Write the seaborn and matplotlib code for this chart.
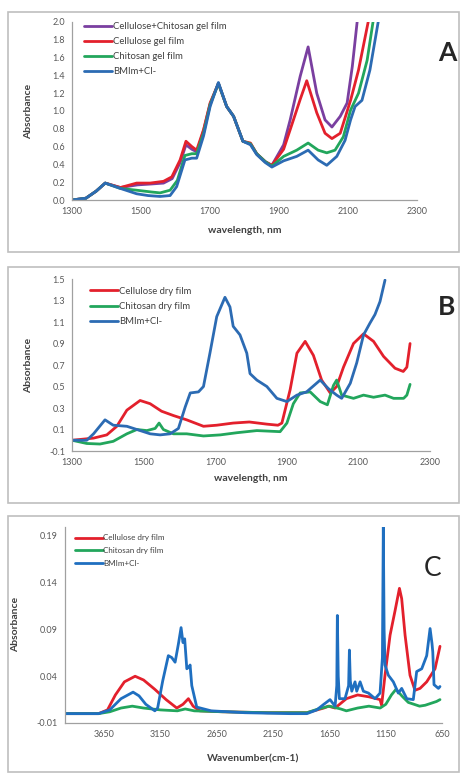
import matplotlib
matplotlib.use('Agg')
import matplotlib.pyplot as plt
import seaborn as sns
from matplotlib.patches import Rectangle

sns.set_style('white')
plt.rcParams['font.family'] = ['Lato', 'DejaVu Sans']

# ---- panel A (gel films) ----
wl_a_purple = [1300, 1340, 1370, 1396, 1440, 1490, 1530, 1565, 1590, 1613, 1630, 1647, 1662, 1681, 1700, 1724, 1748,
               1768, 1795, 1817, 1835, 1860, 1879, 1913, 1932, 1961, 1984, 2009, 2033, 2053, 2077, 2097, 2112, 2126]
abs_a_purple = [0.00, 0.02, 0.10, 0.19, 0.14, 0.17, 0.18, 0.19, 0.24, 0.42, 0.62, 0.57, 0.54, 0.78, 1.08, 1.31, 1.05,
                0.94, 0.66, 0.63, 0.52, 0.43, 0.39, 0.62, 0.90, 1.39, 1.72, 1.20, 0.90, 0.82, 0.94, 1.09, 1.50, 2.00]

wl_a_red = [1300, 1340, 1370, 1396, 1440, 1487, 1526, 1565, 1589, 1613, 1630, 1647, 1661, 1681, 1700, 1724, 1748,
            1768, 1795, 1817, 1835, 1860, 1879, 1913, 1932, 1961, 1980, 2009, 2033, 2053, 2077, 2107, 2130, 2158]
abs_a_red = [0.00, 0.02, 0.10, 0.19, 0.14, 0.19, 0.19, 0.21, 0.26, 0.45, 0.66, 0.60, 0.56, 0.79, 1.09, 1.31, 1.05,
             0.94, 0.66, 0.64, 0.52, 0.43, 0.39, 0.57, 0.79, 1.13, 1.34, 0.98, 0.75, 0.69, 0.75, 1.12, 1.46, 2.00]

wl_a_green = [1300, 1340, 1370, 1396, 1440, 1487, 1530, 1555, 1584, 1605, 1627, 1647, 1661, 1681, 1700, 1724, 1748,
              1768, 1795, 1817, 1835, 1860, 1879, 1913, 1951, 1984, 2013, 2038, 2062, 2086, 2107, 2130, 2155, 2172]
abs_a_green = [0.00, 0.02, 0.10, 0.19, 0.13, 0.11, 0.09, 0.08, 0.11, 0.22, 0.50, 0.52, 0.52, 0.75, 1.07, 1.31, 1.05,
               0.94, 0.66, 0.63, 0.52, 0.43, 0.38, 0.49, 0.56, 0.64, 0.56, 0.53, 0.56, 0.71, 1.01, 1.20, 1.57, 2.00]

wl_a_blue = [1300, 1340, 1370, 1396, 1440, 1487, 1520, 1555, 1584, 1603, 1627, 1647, 1661, 1681, 1700, 1724, 1748,
             1768, 1795, 1817, 1835, 1860, 1879, 1913, 1951, 1984, 2013, 2038, 2067, 2091, 2107, 2120, 2140, 2163, 2187]
abs_a_blue = [0.00, 0.02, 0.10, 0.19, 0.13, 0.07, 0.05, 0.04, 0.05, 0.15, 0.45, 0.47, 0.47, 0.72, 1.05, 1.32, 1.05,
              0.94, 0.66, 0.62, 0.51, 0.42, 0.37, 0.44, 0.49, 0.56, 0.45, 0.39, 0.49, 0.67, 0.90, 1.05, 1.12, 1.46, 2.00]

labels_a = ['Cellulose+Chitosan gel film', 'Cellulose gel film', 'Chitosan gel film', 'BMIm+Cl-']

# ---- panel B (dry films) ----
wl_b_red = [1300, 1360, 1397, 1425, 1453, 1490, 1518, 1550, 1583, 1620, 1667, 1704, 1750, 1795, 1844, 1875, 1886,
            1909, 1928, 1951, 1974, 1997, 2021, 2039, 2058, 2086, 2114, 2142, 2170, 2202, 2225, 2235, 2244]
abs_b_red = [0.00, 0.02, 0.05, 0.13, 0.28, 0.37, 0.34, 0.27, 0.23, 0.19, 0.13, 0.14, 0.16, 0.17, 0.15, 0.14, 0.16,
             0.47, 0.81, 0.92, 0.79, 0.56, 0.44, 0.50, 0.68, 0.90, 0.99, 0.92, 0.78, 0.67, 0.64, 0.68, 0.90]

wl_b_green = [1300, 1341, 1378, 1415, 1453, 1481, 1509, 1532, 1543, 1555, 1583, 1620, 1667, 1714, 1760, 1816, 1881,
              1900, 1918, 1937, 1965, 1993, 2013, 2030, 2039, 2053, 2086, 2114, 2142, 2174, 2198, 2226, 2235, 2244]
abs_b_green = [0.00, -0.03, -0.035, -0.01, 0.06, 0.10, 0.09, 0.11, 0.16, 0.10, 0.06, 0.06, 0.04, 0.05, 0.07, 0.09,
               0.08, 0.16, 0.34, 0.44, 0.45, 0.36, 0.33, 0.51, 0.56, 0.42, 0.39, 0.42, 0.40, 0.42, 0.39, 0.39, 0.42, 0.52]

wl_b_blue = [1300, 1341, 1360, 1392, 1415, 1453, 1481, 1518, 1546, 1574, 1597, 1616, 1630, 1653, 1667, 1685, 1704,
             1727, 1741, 1750, 1769, 1788, 1797, 1816, 1844, 1872, 1900, 1928, 1955, 1993, 2016, 2039, 2053, 2077,
             2095, 2114, 2132, 2146, 2160, 2174]
abs_b_blue = [0.00, 0.00, 0.06, 0.19, 0.14, 0.13, 0.10, 0.06, 0.05, 0.06, 0.11, 0.31, 0.44, 0.45, 0.50, 0.81, 1.15,
              1.33, 1.24, 1.06, 0.98, 0.81, 0.62, 0.56, 0.50, 0.39, 0.36, 0.42, 0.45, 0.56, 0.48, 0.42, 0.39, 0.53,
              0.72, 0.98, 1.09, 1.17, 1.29, 1.49]

labels_b = ['Cellulose dry film', 'Chitosan dry film', 'BMIm+Cl-']

# ---- panel C (IR, dry films) ----
wn_c_red = [4000, 3700, 3620, 3550, 3470, 3375, 3300, 3200, 3100, 3005, 2950, 2902, 2860, 2800, 2600, 2200, 1850,
            1700, 1660, 1600, 1500, 1400, 1300, 1201, 1187, 1157, 1112, 1068, 1029, 1009, 979, 935, 891, 846, 787,
            713, 669]
abs_c_red = [0.000, 0.000, 0.004, 0.020, 0.034, 0.040, 0.036, 0.026, 0.015, 0.006, 0.010, 0.016, 0.008, 0.003,
             0.002, 0.001, 0.001, 0.006, 0.008, 0.006, 0.016, 0.020, 0.018, 0.015, 0.009, 0.041, 0.084, 0.110,
             0.134, 0.123, 0.084, 0.041, 0.025, 0.027, 0.034, 0.048, 0.072]

wn_c_green = [4000, 3700, 3600, 3500, 3400, 3300, 3150, 3000, 2930, 2850, 2600, 2200, 1850, 1750, 1650, 1550, 1500,
              1400, 1300, 1200, 1150, 1100, 1060, 1000, 950, 900, 850, 800, 700, 669]
abs_c_green = [0.000, 0.000, 0.002, 0.006, 0.008, 0.006, 0.004, 0.003, 0.005, 0.003, 0.002, 0.001, 0.001, 0.005,
               0.008, 0.005, 0.003, 0.006, 0.008, 0.006, 0.010, 0.020, 0.026, 0.018, 0.012, 0.010, 0.008, 0.009,
               0.013, 0.015]

wn_c_blue = [4000, 3700, 3600, 3500, 3393, 3340, 3280, 3200, 3175, 3130, 3080, 3050, 3020, 2990, 2967, 2950, 2935,
             2916, 2895, 2887, 2872, 2828, 2700, 2400, 2000, 1850, 1763, 1700, 1645, 1600, 1585, 1580, 1572, 1562,
             1512, 1480, 1473, 1465, 1452, 1423, 1408, 1378, 1349, 1304, 1245, 1201, 1180, 1172, 1165, 1157, 1127,
             1083, 1039, 1009, 964, 906, 876, 831, 787, 757, 740, 733, 722, 683, 669]
abs_c_blue = [0.000, 0.000, 0.004, 0.016, 0.023, 0.019, 0.010, 0.003, 0.006, 0.035, 0.062, 0.060, 0.055, 0.075,
              0.092, 0.076, 0.080, 0.048, 0.050, 0.052, 0.030, 0.007, 0.003, 0.001, 0.000, 0.000, 0.004, 0.010,
              0.015, 0.008, 0.030, 0.105, 0.040, 0.016, 0.016, 0.030, 0.068, 0.035, 0.024, 0.034, 0.024, 0.034,
              0.024, 0.022, 0.016, 0.022, 0.060, 0.200, 0.090, 0.052, 0.041, 0.034, 0.022, 0.027, 0.016, 0.015,
              0.045, 0.048, 0.062, 0.091, 0.075, 0.066, 0.031, 0.027, 0.029]

labels_c = ['Cellulose dry film', 'Chitosan dry film', 'BMIm+Cl-']

PURPLE = '#7a3fa0'
RED = '#e3202c'
GREEN = '#22a65c'
BLUE = '#2c6bb3'
TICK_COL = '#595959'
AX_COL = '#a0a0a0'

fig = plt.figure(figsize=(4.62, 7.74), dpi=100)

# grey frames around each panel (figure coords)
for (bx, by, bw, bh) in [(0.017, 0.674, 0.976, 0.310), (0.017, 0.350, 0.976, 0.305), (0.017, 0.003, 0.976, 0.330)]:
    fig.patches.append(Rectangle((bx, by), bw, bh, transform=fig.transFigure, fill=False,
                                 edgecolor='#bfbfbf', linewidth=1.2))

ax_a = fig.add_axes([0.156, 0.7416, 0.747, 0.230])
ax_b = fig.add_axes([0.156, 0.4173, 0.775, 0.2222])
ax_c = fig.add_axes([0.140, 0.0659, 0.817, 0.2537])


def style_axes(ax):
    sns.despine(ax=ax)
    for s in ['left', 'bottom']:
        ax.spines[s].set_color(AX_COL)
        ax.spines[s].set_linewidth(0.9)
    ax.tick_params(axis='both', labelsize=6.5, labelcolor=TICK_COL, color=AX_COL,
                   direction='out', length=3, width=0.8, pad=2)
    ax.set_facecolor('white')


def draw(ax, xs, ys, color, label, lw=2.0):
    sns.lineplot(x=xs, y=ys, ax=ax, color=color, lw=lw, label=label, estimator=None)


# panel A
draw(ax_a, wl_a_purple, abs_a_purple, PURPLE, labels_a[0])
draw(ax_a, wl_a_red, abs_a_red, RED, labels_a[1])
draw(ax_a, wl_a_green, abs_a_green, GREEN, labels_a[2])
draw(ax_a, wl_a_blue, abs_a_blue, BLUE, labels_a[3])
ax_a.set_xlim(1300, 2300)
ax_a.set_ylim(0, 2.0)
ax_a.set_xticks(range(1300, 2301, 200))
ax_a.set_yticks([i / 10 for i in range(0, 21, 2)])
ax_a.set_yticklabels([f'{i / 10:.1f}' for i in range(0, 21, 2)])
style_axes(ax_a)
ax_a.set_xlabel('wavelength, nm', fontsize=7.5, fontweight='bold', color='#404040')
ax_a.set_ylabel('Absorbance', fontsize=7.5, fontweight='bold', color='#404040')
ax_a.xaxis.set_label_coords(0.5, -0.146)
ax_a.yaxis.set_label_coords(-0.113, 0.5)
ax_a.legend(loc='upper left', bbox_to_anchor=(0.035, 1.0), frameon=False, fontsize=6.8,
            handlelength=3.0, handletextpad=0.1, labelspacing=0.65, borderpad=0, borderaxespad=0,
            labelcolor='#404040')

# panel B
draw(ax_b, wl_b_red, abs_b_red, RED, labels_b[0])
draw(ax_b, wl_b_green, abs_b_green, GREEN, labels_b[1])
draw(ax_b, wl_b_blue, abs_b_blue, BLUE, labels_b[2])
ax_b.set_xlim(1300, 2300)
ax_b.set_ylim(-0.1, 1.5)
ax_b.set_xticks(range(1300, 2301, 200))
b_ticks = [-0.1, 0.1, 0.3, 0.5, 0.7, 0.9, 1.1, 1.3, 1.5]
ax_b.set_yticks(b_ticks)
ax_b.set_yticklabels([f'{t:.1f}' for t in b_ticks])
style_axes(ax_b)
ax_b.set_xlabel('wavelength, nm', fontsize=7.5, fontweight='bold', color='#404040')
ax_b.set_ylabel('Absorbance', fontsize=7.5, fontweight='bold', color='#404040')
ax_b.xaxis.set_label_coords(0.5, -0.134)
ax_b.yaxis.set_label_coords(-0.109, 0.5)
ax_b.legend(loc='upper left', bbox_to_anchor=(0.05, 0.955), frameon=False, fontsize=6.8,
            handlelength=3.0, handletextpad=0.1, labelspacing=0.65, borderpad=0, borderaxespad=0,
            labelcolor='#404040')

# panel C
draw(ax_c, wn_c_red, abs_c_red, RED, labels_c[0])
draw(ax_c, wn_c_green, abs_c_green, GREEN, labels_c[1])
draw(ax_c, wn_c_blue, abs_c_blue, '#1f6fc0', labels_c[2])
ax_c.set_xlim(4000, 650)
ax_c.set_ylim(-0.01, 0.20)
ax_c.set_xticks(range(3650, 649, -500))
c_ticks = [-0.01, 0.04, 0.09, 0.14, 0.19]
ax_c.set_yticks(c_ticks)
ax_c.set_yticklabels([f'{t:.2f}' for t in c_ticks])
style_axes(ax_c)
ax_c.set_xlabel('Wavenumber(cm-1)', fontsize=7.5, fontweight='bold', color='#404040')
ax_c.set_ylabel('Absorbance', fontsize=7.5, fontweight='bold', color='#404040')
ax_c.xaxis.set_label_coords(0.5, -0.158)
ax_c.yaxis.set_label_coords(-0.118, 0.5)
ax_c.legend(loc='upper left', bbox_to_anchor=(0.028, 0.96), frameon=False, fontsize=5.8,
            handlelength=3.4, handletextpad=0.1, labelspacing=0.7, borderpad=0, borderaxespad=0,
            labelcolor='#404040')

# panel letters
fig.text(447 / 462, 1 - 53 / 774, 'A', fontsize=19, fontweight='bold', ha='center', va='center')
fig.text(447 / 462, 1 - 307 / 774, 'B', fontsize=19, fontweight='bold', ha='center', va='center')
fig.text(433 / 462, 1 - 568 / 774, 'C', fontsize=19, ha='center', va='center')

fig.savefig('out.png', dpi=100)
